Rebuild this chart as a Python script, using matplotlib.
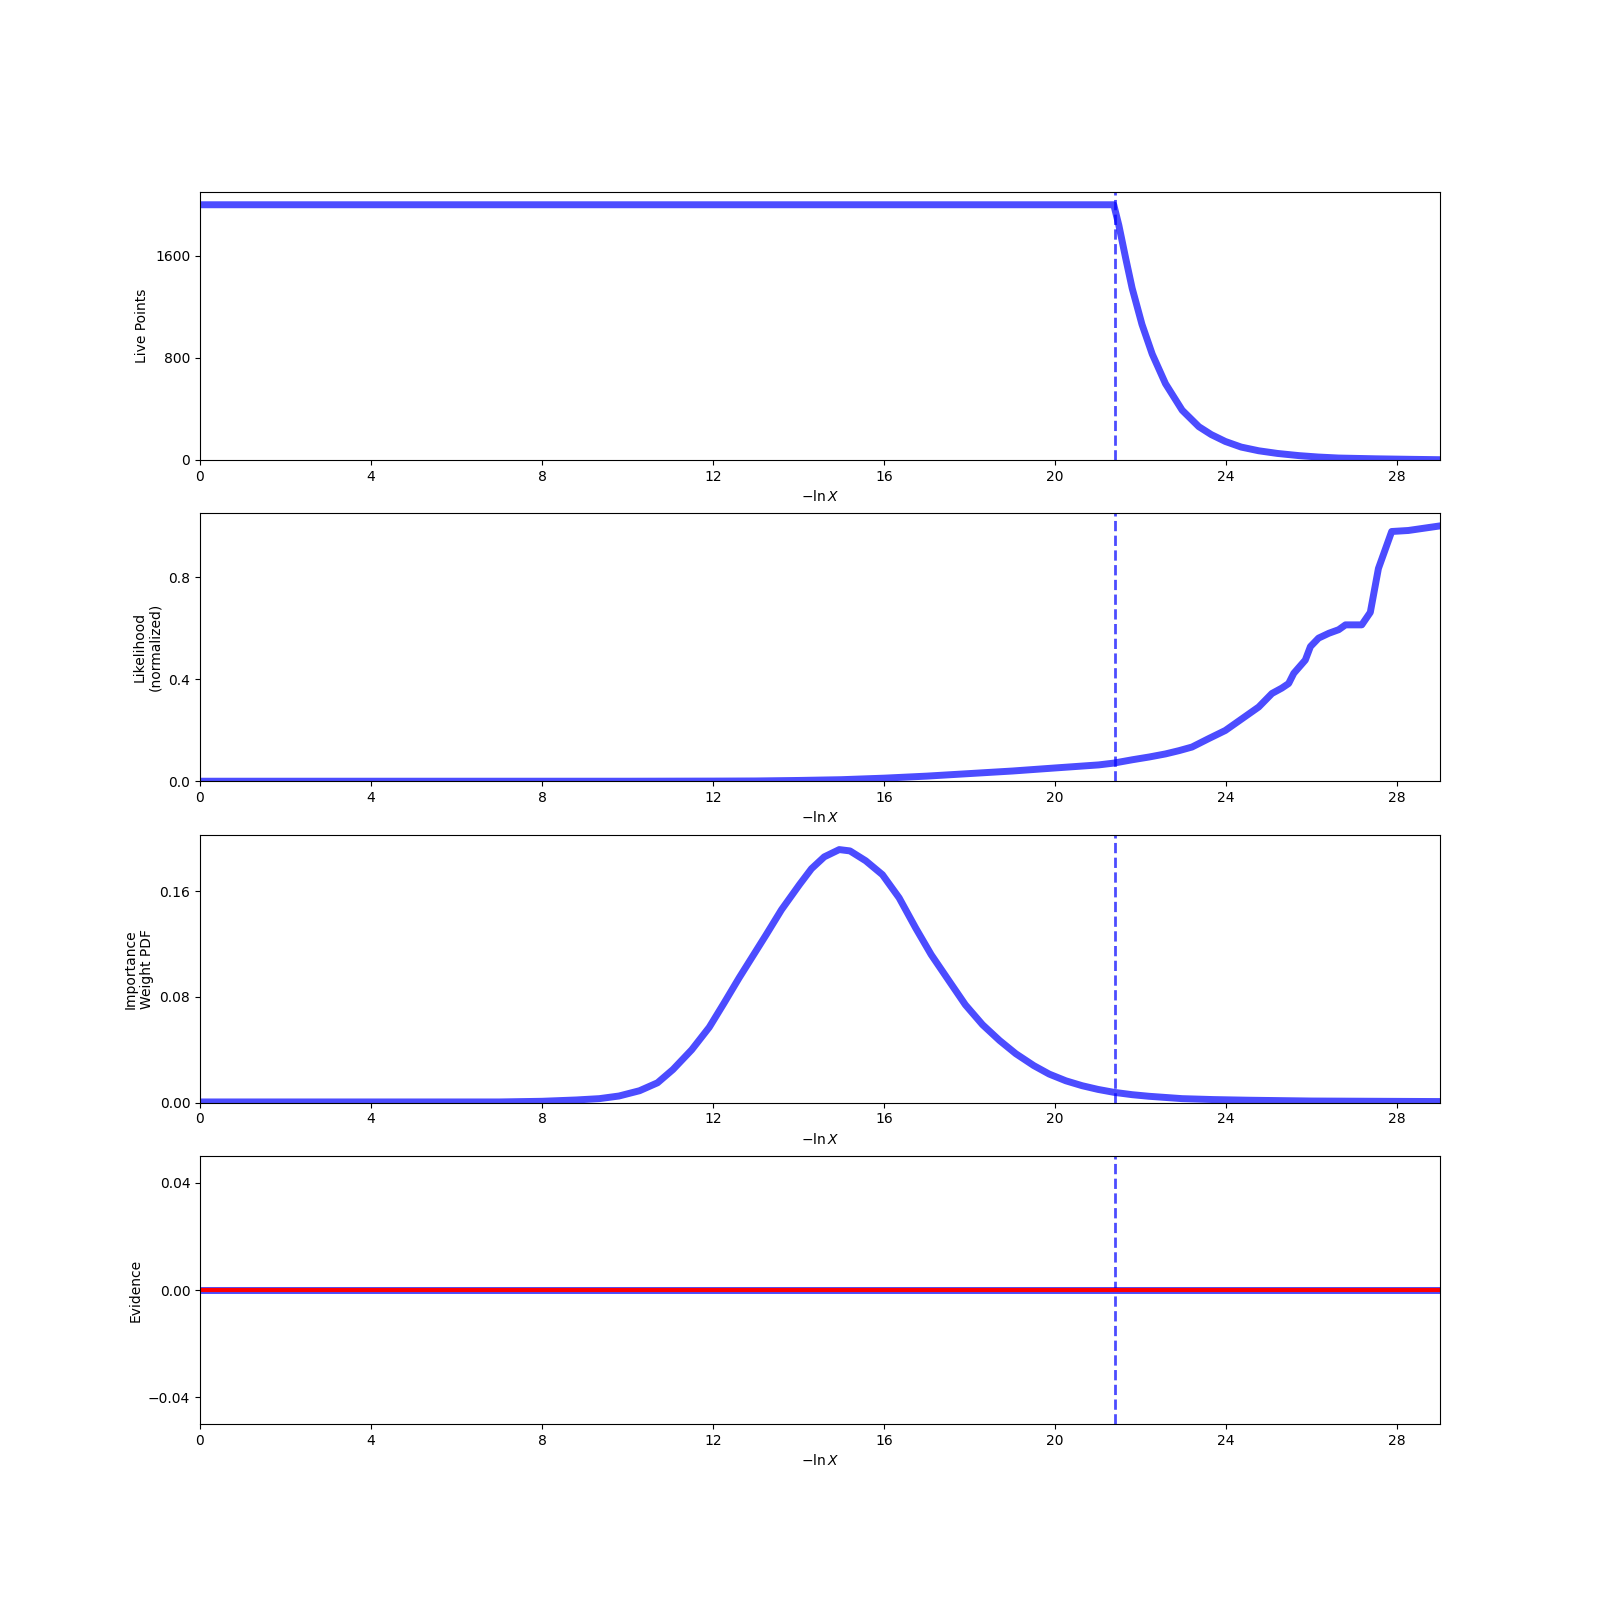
import matplotlib
matplotlib.use("Agg")
import matplotlib.pyplot as plt

# ---- data ----
x_max = 29.0
x_stop = 21.4  # dashed vertical line (end of main run)

live_x = [0.0, 21.37, 21.49, 21.65, 21.80, 22.03, 22.27, 22.58, 22.97, 23.36,
          23.65, 23.98, 24.35, 24.76, 25.2, 25.70, 26.15, 26.63, 27.5, 28.3, 29.0]
live_n = [2000, 2000, 1838, 1579, 1346, 1062, 829, 597, 389, 260,
          198, 144, 100, 71, 50, 33, 22, 14, 8, 4, 1]

like_x = [0.0, 10.0, 12.0, 13.0, 14.0, 15.0, 16.0, 17.0, 18.0, 19.0, 20.0,
          21.02, 21.37, 21.80, 22.2, 22.58, 22.9, 23.2, 23.59, 23.98, 24.37,
          24.76, 25.07, 25.3, 25.46, 25.58, 25.85, 25.97, 26.16, 26.40, 26.63,
          26.79, 27.17, 27.37, 27.56, 27.87, 28.26, 28.96]
like_y = [0.0, 0.0, 0.0005, 0.001, 0.003, 0.006, 0.012, 0.02, 0.03, 0.04, 0.052,
          0.064, 0.071, 0.084, 0.095, 0.107, 0.12, 0.134, 0.167, 0.199, 0.245,
          0.291, 0.344, 0.365, 0.383, 0.423, 0.475, 0.528, 0.561, 0.580, 0.594,
          0.613, 0.613, 0.662, 0.834, 0.979, 0.983, 1.0]

wt_x = [0.0, 7.0, 8.0, 8.8, 9.34, 9.8, 10.28, 10.7, 11.06, 11.5, 11.91, 12.25,
        12.61, 13.24, 13.6, 14.02, 14.3, 14.6, 14.95, 15.2, 15.57, 15.96, 16.35,
        16.74, 17.1, 17.52, 17.9, 18.30, 18.7, 19.08, 19.5, 19.86, 20.25, 20.63,
        21.0, 21.37, 21.8, 22.19, 22.97, 23.7, 24.53, 26.0, 29.0]
wt_y = [0.0005, 0.0005, 0.001, 0.002, 0.003, 0.005, 0.009, 0.015, 0.025, 0.04,
        0.057, 0.075, 0.0945, 0.127, 0.146, 0.165, 0.177, 0.186, 0.1915, 0.1905,
        0.183, 0.1725, 0.155, 0.132, 0.112, 0.092, 0.074, 0.059, 0.047, 0.037,
        0.028, 0.0216, 0.0165, 0.0128, 0.010, 0.0078, 0.006, 0.0048, 0.003,
        0.0023, 0.0018, 0.0012, 0.0008]

ev_x = [0.0, 29.0]
ev_y = [0.0, 0.0]
ev_truth = 0.0

ylabels = ["Live Points", "Likelihood\n(normalized)", "Importance\nWeight PDF", "Evidence"]
x_ticks = [0, 4, 8, 12, 16, 20, 24, 28]
y_ticks = [[0, 800, 1600], [0.0, 0.4, 0.8], [0.0, 0.08, 0.16], [-0.04, 0.0, 0.04]]
y_lims = [(0, 2100), (0, 1.05), (0, 0.2027), (-0.05, 0.05)]

fig, axes = plt.subplots(4, 1, figsize=(16, 16), dpi=100)

series = [(live_x, live_n), (like_x, like_y), (wt_x, wt_y), (ev_x, ev_y)]
for ax, (xs, ys), lab, yt, yl in zip(axes, series, ylabels, y_ticks, y_lims):
    ax.plot(xs, ys, color="blue", lw=5, alpha=0.7, solid_joinstyle="round")
    ax.axvline(x_stop, color="blue", ls="--", lw=2, alpha=0.7)
    ax.set_xlim(0, x_max)
    ax.set_ylim(*yl)
    ax.set_xticks(x_ticks)
    ax.set_yticks(yt)
    ax.set_xlabel(r"$-\ln X$")
    ax.set_ylabel(lab)

axes[3].axhline(ev_truth, color="red", lw=3)

fig.savefig("out.png", dpi=100)
